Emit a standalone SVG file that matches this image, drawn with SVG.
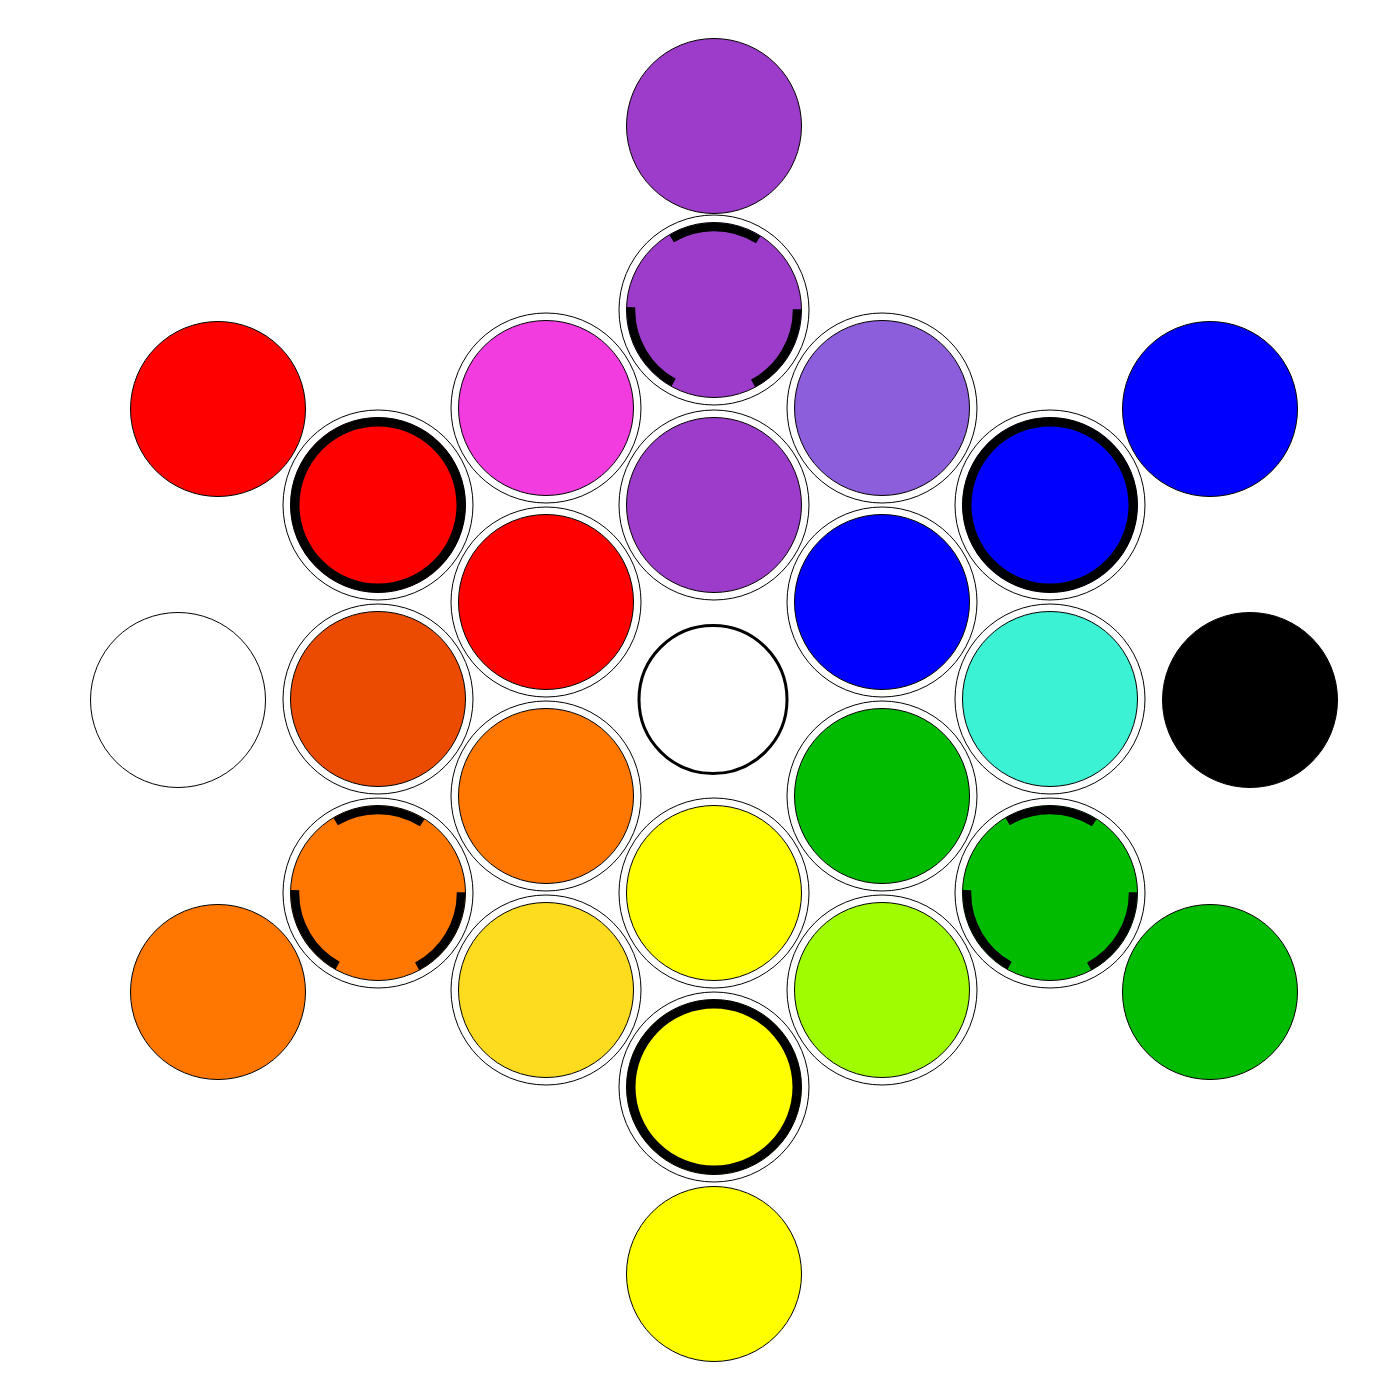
<svg xmlns="http://www.w3.org/2000/svg" width="1400" height="1400" viewBox="0 0 1400 1400">
<style>
.bg{fill:#ffffff}
.halo{fill:#ffffff;stroke:#000;stroke-width:1}
.disc{stroke:#000;stroke-width:1}
.ring{fill:none;stroke:#000;stroke-width:9}
.dash{fill:none;stroke:#000;stroke-width:8.5;stroke-dasharray:91 82.8;stroke-dashoffset:1.5}
.center{fill:#ffffff;stroke:#000;stroke-width:3}
</style>
<rect class="bg" x="0" y="0" width="1400" height="1400"/>
<g id="connectors"></g>
<!-- outer nodes -->
<g id="outer-top"><circle class="disc" cx="714" cy="126" r="87.5" fill="#9d3ccb"/></g>
<g id="outer-upper-left"><circle class="disc" cx="218" cy="409" r="87.5" fill="#ff0000"/></g>
<g id="outer-upper-right"><circle class="disc" cx="1210" cy="409" r="87.5" fill="#0000ff"/></g>
<g id="outer-left"><circle class="disc" cx="178" cy="700" r="87.5" fill="#ffffff"/></g>
<g id="outer-right"><circle class="disc" cx="1250" cy="700" r="87.5" fill="#000000"/></g>
<g id="outer-lower-left"><circle class="disc" cx="218" cy="992" r="87.5" fill="#ff7700"/></g>
<g id="outer-lower-right"><circle class="disc" cx="1210" cy="992" r="87.5" fill="#00bb00"/></g>
<g id="outer-bottom"><circle class="disc" cx="714" cy="1274" r="87.5" fill="#ffff00"/></g>
<!-- inner hex nodes -->
<g id="n-714-312"><circle class="halo" cx="714" cy="310" r="95"/><circle class="disc" cx="714" cy="310" r="87.5" fill="#9d3ccb"/><circle class="dash" cx="714" cy="310" r="83"/></g>
<g id="n-546-409"><circle class="halo" cx="546" cy="408" r="95"/><circle class="disc" cx="546" cy="408" r="87.5" fill="#f23cdf"/></g>
<g id="n-882-409"><circle class="halo" cx="882" cy="408" r="95"/><circle class="disc" cx="882" cy="408" r="87.5" fill="#8c5edc"/></g>
<g id="n-378-506"><circle class="halo" cx="378" cy="505" r="95"/><circle class="disc" cx="378" cy="505" r="87.5" fill="#ff0000"/><circle class="ring" cx="378" cy="505" r="83"/></g>
<g id="n-714-506"><circle class="halo" cx="714" cy="505" r="95"/><circle class="disc" cx="714" cy="505" r="87.5" fill="#9d3ccb"/></g>
<g id="n-1050-506"><circle class="halo" cx="1050" cy="505" r="95"/><circle class="disc" cx="1050" cy="505" r="87.5" fill="#0000ff"/><circle class="ring" cx="1050" cy="505" r="83"/></g>
<g id="n-546-603"><circle class="halo" cx="546" cy="602" r="95"/><circle class="disc" cx="546" cy="602" r="87.5" fill="#ff0000"/></g>
<g id="n-882-603"><circle class="halo" cx="882" cy="602" r="95"/><circle class="disc" cx="882" cy="602" r="87.5" fill="#0000ff"/></g>
<g id="n-378-700"><circle class="halo" cx="378" cy="699" r="95"/><circle class="disc" cx="378" cy="699" r="87.5" fill="#eb4b00"/></g>
<g id="n-center"><circle class="center" cx="713" cy="699.5" r="74"/></g>
<g id="n-1050-700"><circle class="halo" cx="1050" cy="699" r="95"/><circle class="disc" cx="1050" cy="699" r="87.5" fill="#3cf2d4"/></g>
<g id="n-546-797"><circle class="halo" cx="546" cy="796" r="95"/><circle class="disc" cx="546" cy="796" r="87.5" fill="#ff7700"/></g>
<g id="n-882-797"><circle class="halo" cx="882" cy="796" r="95"/><circle class="disc" cx="882" cy="796" r="87.5" fill="#00bb00"/></g>
<g id="n-378-894"><circle class="halo" cx="378" cy="893" r="95"/><circle class="disc" cx="378" cy="893" r="87.5" fill="#ff7700"/><circle class="dash" cx="378" cy="893" r="83"/></g>
<g id="n-714-894"><circle class="halo" cx="714" cy="893" r="95"/><circle class="disc" cx="714" cy="893" r="87.5" fill="#ffff00"/></g>
<g id="n-1050-894"><circle class="halo" cx="1050" cy="893" r="95"/><circle class="disc" cx="1050" cy="893" r="87.5" fill="#00bb00"/><circle class="dash" cx="1050" cy="893" r="83"/></g>
<g id="n-546-991"><circle class="halo" cx="546" cy="990" r="95"/><circle class="disc" cx="546" cy="990" r="87.5" fill="#fddc20"/></g>
<g id="n-882-991"><circle class="halo" cx="882" cy="990" r="95"/><circle class="disc" cx="882" cy="990" r="87.5" fill="#a0fc00"/></g>
<g id="n-714-1088"><circle class="halo" cx="714" cy="1087" r="95"/><circle class="disc" cx="714" cy="1087" r="87.5" fill="#ffff00"/><circle class="ring" cx="714" cy="1087" r="83"/></g>
</svg>
